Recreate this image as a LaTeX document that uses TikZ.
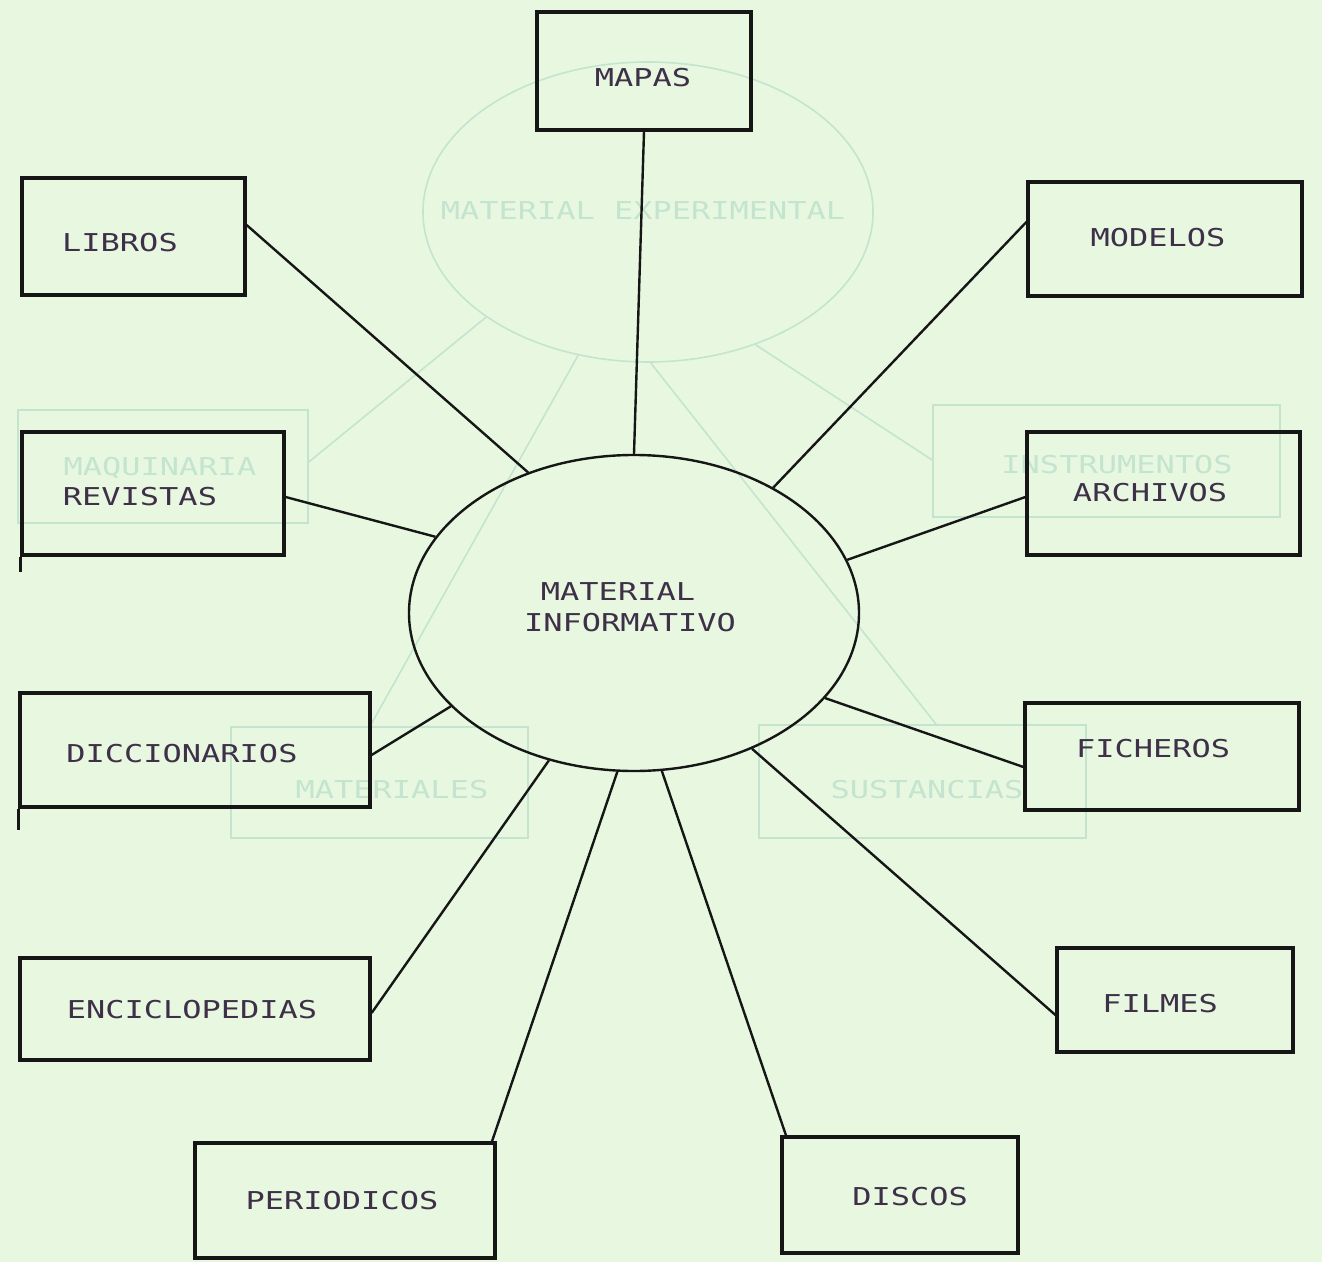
\documentclass[tikz,border=0pt]{standalone}
\usepackage{fontspec}
\newfontfamily\dotfont[FakeStretch=1.3]{DejaVu Sans Mono}
\usetikzlibrary{shapes.geometric}
\definecolor{paper}{RGB}{232,248,224}
\definecolor{ghost}{RGB}{196,228,208}
\definecolor{ink}{RGB}{22,22,22}
\definecolor{txt}{RGB}{62,48,72}
\begin{document}
\begin{tikzpicture}[x=0.5pt,y=-0.5pt,
  box/.style={draw=ink, line width=1.6pt, rectangle, inner sep=0pt},
  ghostbox/.style={draw=ghost, line width=0.8pt, rectangle, inner sep=0pt},
  lbl/.style={font=\dotfont\fontsize{12.3pt}{15.5pt}\selectfont, text=txt, inner sep=0pt},
  ghostlbl/.style={lbl, text=ghost},
  conn/.style={draw=ink, line width=1.2pt},
  ghostconn/.style={draw=ghost, line width=0.8pt}]
\fill[paper] (0,0) rectangle (1322,1262);
\useasboundingbox (0,0) rectangle (1322,1262);

% ---- show-through from the reverse side (faint) ----
\node[ghostbox, ellipse, minimum width=225pt, minimum height=150pt] (exp) at (648,212) {};
\node[ghostlbl] (exp-t) at (643,211) {MATERIAL EXPERIMENTAL};
\node[ghostbox, minimum width=145pt, minimum height=56.5pt] (maq) at (163,466.5) {};
\node[ghostlbl] (maq-t) at (160,468) {MAQUINARIA};
\node[ghostbox, minimum width=173.5pt, minimum height=56pt] (instr) at (1106.5,461) {};
\node[ghostlbl] (instr-t) at (1117,465) {INSTRUMENTOS};
\node[ghostbox, minimum width=148.5pt, minimum height=55.5pt] (mat) at (379.5,782.5) {};
\node[ghostlbl] (mat-t) at (392,790) {MATERIALES};
\node[ghostbox, minimum width=163.5pt, minimum height=56.5pt] (sust) at (922.5,781.5) {};
\node[ghostlbl] (sust-t) at (927,790) {SUSTANCIAS};
\draw[ghostconn] (exp.213) -- (maq.east |- 0,462);
\draw[ghostconn] (exp.309) -- (instr.west |- 0,460);
\draw[ghostconn] (exp.244) -- (mat.north -| 370,0);
\draw[ghostconn] (exp.271) -- (sust.north -| 936,0);

% ---- main diagram ----
\node[box, ellipse, line width=1.2pt, minimum width=225pt, minimum height=158pt] (info) at (634,613) {};
\node[lbl] (info-t1) at (618,592) {MATERIAL};
\node[lbl] (info-t2) at (630,623) {INFORMATIVO};

\node[box, minimum width=107pt, minimum height=59pt] (mapas) at (644,71) {};
\node[lbl] (mapas-t) at (643,78) {MAPAS};
\node[box, minimum width=111.5pt, minimum height=58.5pt] (libros) at (133.5,236.5) {};
\node[lbl] (libros-t) at (120,243) {LIBROS};
\node[box, minimum width=137pt, minimum height=57pt] (modelos) at (1165,239) {};
\node[lbl] (modelos-t) at (1158,238) {MODELOS};
\node[box, minimum width=131pt, minimum height=61.5pt] (revistas) at (153,493.5) {};
\node[lbl] (revistas-t) at (140,497) {REVISTAS};
\node[box, minimum width=136.5pt, minimum height=61.5pt] (archivos) at (1163.5,493.5) {};
\node[lbl] (archivos-t) at (1150,493) {ARCHIVOS};
\node[box, minimum width=175pt, minimum height=57pt] (dicc) at (195,750) {};
\node[lbl] (dicc-t) at (182,754) {DICCIONARIOS};
\node[box, minimum width=137pt, minimum height=53.5pt] (fich) at (1162,756.5) {};
\node[lbl] (fich-t) at (1153,749) {FICHEROS};
\node[box, minimum width=175pt, minimum height=51pt] (encic) at (195,1009) {};
\node[lbl] (encic-t) at (192,1010) {ENCICLOPEDIAS};
\node[box, minimum width=118pt, minimum height=52pt] (filmes) at (1175,1000) {};
\node[lbl] (filmes-t) at (1160,1004) {FILMES};
\node[box, minimum width=150pt, minimum height=57.5pt] (period) at (345,1200.5) {};
\node[lbl] (period-t) at (342,1201) {PERIODICOS};
\node[box, minimum width=118pt, minimum height=58pt] (discos) at (900,1195) {};
\node[lbl] (discos-t) at (910,1197) {DISCOS};

% overshooting edge strokes
\draw[ink, line width=1.6pt] (revistas.south west) -- ++(0,15);
\draw[ink, line width=1.6pt] (dicc.south west) -- ++(0,21);

% connectors
\draw[conn] (mapas.south) -- (info.90);
\draw[conn] (libros.east |- 0,225) -- (info.127.7);
\draw[conn] (modelos.west |- 0,222) -- (info.42.4);
\draw[conn] (revistas.east |- 0,497) -- (info.159.4);
\draw[conn] (archivos.west |- 0,497) -- (info.14.7);
\draw[conn] (dicc.east |- 0,755) -- (info.207);
\draw[conn] (fich.west |- 0,767) -- (info.336.2);
\draw[conn] (encic.east |- 0,1013) -- (info.240.8);
\draw[conn] (filmes.west |- 0,1015) -- (info.311.7);
\draw[conn] (period.north -| 492,0) -- (info.264.1);
\draw[conn] (discos.north -| 786,0) -- (info.280.7);
\end{tikzpicture}
\end{document}
